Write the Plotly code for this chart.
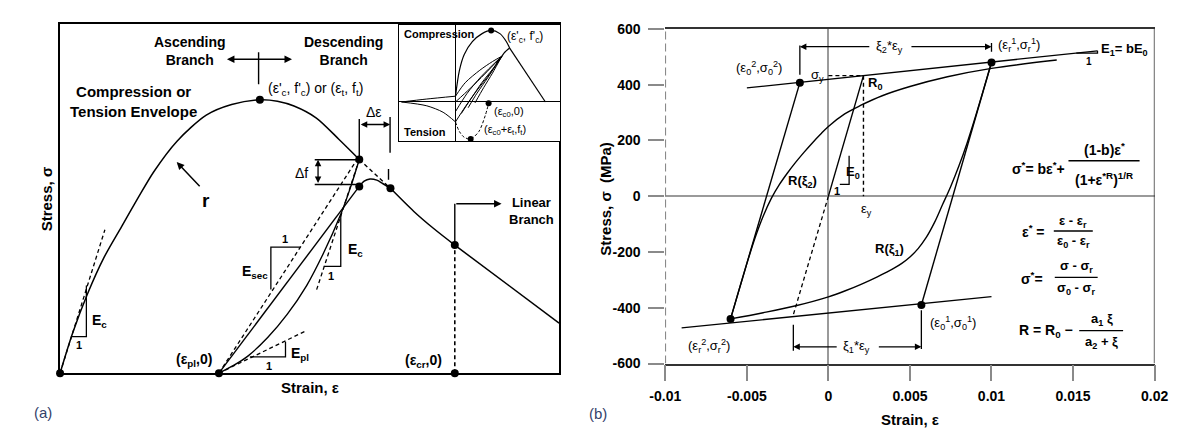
import plotly.graph_objects as go

W, H = 1183, 429

# ================= Panel (a): schematic concrete model (normalized units) =================
env_up_x = [0.00, 0.13, 0.28, 0.45, 0.63, 0.80, 0.96, 1.20, 1.50, 1.76, 2.05, 2.23, 2.40, 2.63, 2.86, 3.07]
env_up_y = [0.00, 0.42, 0.82, 1.20, 1.52, 1.82, 2.09, 2.41, 2.68, 2.79, 2.84, 2.825, 2.775, 2.65, 2.43, 2.22]
env_gap_x = [3.07, 3.23, 3.39]
env_gap_y = [2.22, 2.07, 1.92]
env_desc_x = [3.39, 3.63, 3.83, 4.05]
env_desc_y = [1.92, 1.68, 1.505, 1.33]
lin_x = [4.05, 5.12]
lin_y = [1.33, 0.52]
hump_x = [3.07, 3.12, 3.18, 3.25, 3.31, 3.39]
hump_y = [1.94, 1.995, 2.017, 2.005, 1.97, 1.92]
unl_x = [3.07, 2.98, 2.88, 2.70, 2.53, 2.33, 2.13, 1.93, 1.78, 1.63]
unl_y = [2.22, 1.93, 1.65, 1.24, 0.91, 0.61, 0.37, 0.18, 0.08, 0.00]
rel_x = [1.63, 3.07]
rel_y = [0.00, 1.94]
sec_x = [1.63, 3.06]
sec_y = [0.00, 2.24]
epl_x = [1.63, 2.53]
epl_y = [0.00, 0.443]
ect_x = [3.07, 2.63]
ect_y = [2.22, 0.86]
ec0_x = [0.00, 0.46]
ec0_y = [0.00, 1.49]
ecr_x = [4.05, 4.05]
ecr_y = [0.00, 1.33]
dots_a_x = [0.00, 1.63, 4.05, 4.05, 2.05, 3.07, 3.07, 3.39]
dots_a_y = [0.00, 0.00, 0.00, 1.33, 2.84, 2.22, 1.94, 1.92]
tri_x = [0.118, 0.27, 0.27, None, 2.163, 2.163, 2.463, None, 2.706, 2.88, 2.88, None, 1.947, 2.313, 2.313]
tri_y = [0.38, 0.38, 0.91, None, 0.87, 1.31, 1.31, None, 1.11, 1.11, 1.65, None, 0.17, 0.17, 0.327]
mark_x = [3.07, 3.07, None, 3.386, 3.386, None, 3.37, 3.37, None, 2.613, 3.07, None, 2.613, 3.07, None,
          2.037, 2.037, None, 4.05, 4.05]
mark_y = [2.22, 2.64, None, 2.29, 2.66, None, 2.01, 2.12, None, 2.217, 2.217, None, 1.96, 1.96, None,
          3.00, 3.333, None, 1.36, 1.76]

# inset (compression / tension cyclic sketch)
ins_env_x = [0.0, 0.4, 0.9, 1.73, 2.73, 3.66, 4.56, 5.23, 5.56]
ins_env_y = [0.6, 3.26, 4.93, 6.26, 7.1, 7.43, 7.1, 6.26, 5.6]
ins_hump_x = [4.2, 4.6, 5.0, 5.56]
ins_hump_y = [4.05, 4.5, 5.1, 5.6]
ins_lin_x = [5.56, 9.23]
ins_lin_y = [5.6, 0.0]
fan_x = [[0.0, 1.0, 2.5, 3.8, 4.75], [0.0, 1.0, 2.2, 3.5, 4.75], [0.0, 1.5, 3.0, 4.75],
         [0.6, 1.5, 2.7, 3.8, 4.75], [1.3, 2.2, 3.3, 4.75], [0.0, 1.2, 2.6, 4.75],
         [2.0, 2.9, 3.8, 4.75]]
fan_y = [[0.6, 2.0, 3.3, 4.2, 4.75], [-2.07, -0.5, 1.2, 2.9, 4.75], [0.0, 1.4, 2.9, 4.75],
         [-1.2, 0.2, 2.0, 3.4, 4.75], [-0.6, 0.9, 2.5, 4.75], [-1.0, 0.9, 2.6, 4.75],
         [-0.1, 1.5, 3.0, 4.75]]
loop_up_x = [-5.54, -3.0, 0.0]
loop_up_y = [0.0, 0.3, 0.6]
loop_lo_x = [-5.54, -2.94, -1.27, 0.0]
loop_lo_y = [0.0, -0.4, -1.07, -2.07]
ten_x = [0.0, 0.4, 0.9, 1.56, 2.4, 3.06, 3.4]
ten_y = [-2.07, -3.07, -3.67, -3.84, -3.07, -1.4, -0.14]
ins_dots_x = [3.66, 3.4, 1.56]
ins_dots_y = [7.43, -0.14, -3.84]

# ================= Panel (b): Menegotto-Pinto steel (strain, MPa) =================
eps_upper = [-0.005, 0.0165]
sig_upper = [388, 521]
eps_lower = [-0.009, 0.010]
sig_lower = [-472, -360]
eps_el = [0.0, 0.00215]
sig_el = [0, 432]
eps_el_ext = [0.0, -0.00215]
sig_el_ext = [0, -425]
eps_yv = [0.00215, 0.00215]
sig_yv = [432, 0]
eps_yh = [0.0, 0.00215]
sig_yh = [432, 432]
eps_un1 = [0.010, 0.0057]
sig_un1 = [479, -390]
eps_re2 = [-0.006, -0.00175]
sig_re2 = [-440, 407]
eps_r1 = [0.0100, 0.0095, 0.0090, 0.0085, 0.0080, 0.0075, 0.0070, 0.0065, 0.0060, 0.0055,
          0.0050, 0.0045, 0.0040, 0.0030, 0.0020, 0.0010, 0.0000, -0.0020, -0.0040, -0.0060]
sig_r1 = [479, 380, 282, 190, 108, 35, -30, -95, -148, -188,
          -218, -241, -259, -289, -316, -340, -361, -393, -418, -440]
eps_r2 = [-0.0060, -0.0055, -0.0050, -0.0045, -0.0040, -0.0035, -0.0030, -0.0025, -0.0020, -0.0015,
          -0.0010, -0.0005, 0.0000, 0.0010, 0.0020, 0.0033, 0.0050, 0.0073, 0.0100, 0.0140]
sig_r2 = [-440, -340, -242, -150, -72, -8, 42, 84, 122, 157,
          190, 221, 250, 295, 326, 360, 393, 428, 458, 488]
dots_b_eps = [0.010, -0.00175, -0.006, 0.0057]
dots_b_sig = [479, 407, -440, -390]
marks_b_eps = [-0.00175, -0.00175, None, 0.010, 0.010, None, -0.00215, -0.00215, None, 0.0057, 0.0057,
               None, 0.00127, 0.00127, 0.0007, None, 0.0152, 0.0165, 0.0165]
marks_b_sig = [435, 540, None, 518, 549, None, -461, -554, None, -409, -548,
               None, 145, 42, 42, None, 513, 513, 521]
x_ticks = [-0.01, -0.005, 0, 0.005, 0.01, 0.015, 0.02]
x_ticktext = ['-0.01', '-0.005', '0', '0.005', '0.01', '0.015', '0.02']
y_ticks = [-600, -400, -200, 0, 200, 400, 600]
y_ticktext = ['-600', '-400', '-200', '0', '200', '400', '600']

FONT = 'Liberation Sans, Arial, sans-serif'
fig = go.Figure()


def line(x, y, xa='x', ya='y', dash=None, width=1.4, spline=False, color='black', smooth=0.8):
    ln = dict(color=color, width=width)
    if dash:
        ln['dash'] = dash
    if spline:
        ln['shape'] = 'spline'
        ln['smoothing'] = smooth
    fig.add_trace(go.Scatter(x=x, y=y, mode='lines', xaxis=xa, yaxis=ya, line=ln,
                             hoverinfo='skip', showlegend=False, cliponaxis=False,
                             connectgaps=False))


def dots(x, y, xa, ya, size=8):
    fig.add_trace(go.Scatter(x=x, y=y, mode='markers', xaxis=xa, yaxis=ya,
                             marker=dict(color='black', size=size), hoverinfo='skip',
                             showlegend=False, cliponaxis=False))


SD = '4px,3px'
# ---- panel (a)
line(env_up_x, env_up_y, spline=True, width=1.5)
line(env_gap_x, env_gap_y, dash=SD, width=1.4)
line(env_desc_x, env_desc_y, spline=True, width=1.5)
line(lin_x, lin_y, width=1.5)
line(hump_x, hump_y, spline=True, width=1.5)
line(unl_x, unl_y, spline=True, width=1.4)
line(rel_x, rel_y, width=1.4)
line(sec_x, sec_y, dash=SD, width=1.3)
line(epl_x, epl_y, dash=SD, width=1.3)
line(ect_x, ect_y, dash=SD, width=1.3)
line(ec0_x, ec0_y, dash=SD, width=1.3)
line(ecr_x, ecr_y, dash=SD, width=1.6)
line(tri_x, tri_y, width=1.3)
line(mark_x, mark_y, width=1.4)
dots(dots_a_x, dots_a_y, 'x', 'y', size=8)

# ---- inset
line(ins_env_x, ins_env_y, 'x3', 'y3', spline=True, width=1.2)
line(ins_hump_x, ins_hump_y, 'x3', 'y3', spline=True, width=1.2)
line(ins_lin_x, ins_lin_y, 'x3', 'y3', width=1.2)
for fx, fy in zip(fan_x, fan_y):
    line(fx, fy, 'x3', 'y3', spline=True, width=1.0)
line(loop_up_x, loop_up_y, 'x3', 'y3', spline=True, width=1.0)
line(loop_lo_x, loop_lo_y, 'x3', 'y3', spline=True, width=1.0)
line(ten_x, ten_y, 'x3', 'y3', spline=True, width=1.0, dash='3px,2px')
dots(ins_dots_x, ins_dots_y, 'x3', 'y3', size=6)

# ---- panel (b)
line(eps_upper, sig_upper, 'x2', 'y2', width=1.3)
line(eps_lower, sig_lower, 'x2', 'y2', width=1.3)
line(eps_el, sig_el, 'x2', 'y2', width=1.4)
line(eps_el_ext, sig_el_ext, 'x2', 'y2', dash=SD, width=1.3)
line(eps_yv, sig_yv, 'x2', 'y2', dash=SD, width=1.4)
line(eps_yh, sig_yh, 'x2', 'y2', dash=SD, width=1.4)
line(eps_un1, sig_un1, 'x2', 'y2', width=1.4)
line(eps_re2, sig_re2, 'x2', 'y2', width=1.4)
line(eps_r1, sig_r1, 'x2', 'y2', spline=True, width=1.4, smooth=1.0)
line(eps_r2, sig_r2, 'x2', 'y2', spline=True, width=1.4, smooth=1.0)
line(marks_b_eps, marks_b_sig, 'x2', 'y2', width=1.3)
dots(dots_b_eps, dots_b_sig, 'x2', 'y2', size=8)

anns = []


def txt(text, x, y, ref=('x', 'y'), size=13, xanchor='center', yanchor='middle', angle=0,
        color='black', bg=None):
    d = dict(text=text, x=x, y=y, xref=ref[0], yref=ref[1], showarrow=False, xanchor=xanchor,
             yanchor=yanchor, textangle=angle, font=dict(size=size, color=color, family=FONT))
    if bg:
        d['bgcolor'] = bg
    anns.append(d)


def arrow(x, y, ax, ay, ref=('x', 'y'), both=False, w=1.3):
    d = dict(x=x, y=y, ax=ax, ay=ay, xref=ref[0], yref=ref[1], axref=ref[0], ayref=ref[1],
             text='', showarrow=True, arrowhead=2, arrowsize=1, arrowwidth=w, arrowcolor='black',
             standoff=0)
    if both:
        d.update(arrowside='end+start', startarrowhead=2, startarrowsize=1, startstandoff=0)
    anns.append(d)


PP = ('paper', 'paper')


def P(px_, py_):
    return px_ / W, 1 - py_ / H


# ---- panel (a) text
txt('<b>Ascending<br>Branch</b>', 0.947, 3.343, size=14, xanchor='left')
txt('<b>Descending<br>Branch</b>', 2.48, 3.343, size=14, xanchor='left')
txt('<b>Compression or<br>Tension Envelope</b>', 0.08, 2.818, size=15, xanchor='left')
txt("(ε'<sub>c</sub>, f'<sub>c</sub>) or (ε<sub>t</sub>, f<sub>t</sub>)", 2.11, 2.95, size=14, xanchor='left')
txt('Δε', 3.22, 2.71, size=14)
txt('Δf', 2.48, 2.08, size=14)
txt('<b>r</b>', 1.50, 1.79, size=19)
txt('<b>E<sub>c</sub></b>', 0.40, 0.54, size=14)
txt('<b>1</b>', 0.19, 0.29, size=11)
txt('<b>E<sub>sec</sub></b>', 2.00, 1.05, size=14)
txt('<b>1</b>', 2.31, 1.395, size=11)
txt('<b>E<sub>c</sub></b>', 3.03, 1.28, size=14)
txt('<b>1</b>', 2.78, 1.01, size=11)
txt('<b>E<sub>pl</sub></b>', 2.46, 0.20, size=14)
txt('<b>1</b>', 2.147, 0.075, size=11)
txt('<b>(ε<sub>pl</sub>,0)</b>', 1.37, 0.14, size=14)
txt('<b>(ε<sub>cr</sub>,0)</b>', 3.73, 0.13, size=14)
txt('<b>Linear<br>Branch</b>', 4.59, 1.68, size=13, xanchor='left')
arrow(3.386, 2.583, 3.07, 2.583, both=True)
arrow(2.647, 2.217, 2.647, 1.96, both=True)
arrow(2.38, 3.26, 1.697, 3.26, both=True, w=1.5)
arrow(4.53, 1.76, 4.05, 1.76, w=1.5)
arrow(1.197, 2.193, 1.447, 1.927, w=1.5)

# inset text
I = ('x3', 'y3')
txt('<b>Compression</b>', -5.5, 7.1, ref=I, size=11, xanchor='left')
txt('<b>Tension</b>', -5.5, -3.07, ref=I, size=11, xanchor='left')
txt("(ε'<sub>c</sub>, f'<sub>c</sub>)", 5.1, 6.8, ref=I, size=12, xanchor='left')
txt('(ε<sub>c0</sub>,0)', 3.75, -1.0, ref=I, size=11, xanchor='left')
txt('(ε<sub>c0</sub>+ε<sub>t</sub>,f<sub>t</sub>)', 2.75, -2.95, ref=I, size=11, xanchor='left')

# titles panel (a)
x_, y_ = P(24, 190)
txt('<b>Stress, σ</b>', x_, y_, ref=PP, size=15, angle=-90)
x_, y_ = P(293, 386)
txt('<b>Strain, ε</b>', x_, y_, ref=PP, size=15)
x_, y_ = P(20, 412)
txt('(a)', x_, y_, ref=PP, size=15, color='#34426a')

# ---- panel (b) text
B = ('x2', 'y2')
txt('(ε<sub>0</sub><sup>2</sup>,σ<sub>0</sub><sup>2</sup>)', -0.00423, 458, ref=B, size=13)
txt('σ<sub>y</sub>', -0.00064, 432, ref=B, size=13)
txt('<b>R<sub>0</sub></b>', 0.00283, 404, ref=B, size=13)
txt('<b>E<sub>0</sub></b>', 0.00148, 86, ref=B, size=13)
txt('<b>1</b>', 0.0005, 17, ref=B, size=11)
txt('ε<sub>y</sub>', 0.00235, -46, ref=B, size=13)
txt('<b>R(ξ<sub>2</sub>)</b>', -0.0016, 52, ref=B, size=13)
txt('<b>R(ξ<sub>1</sub>)</b>', 0.00373, -190, ref=B, size=13)
txt('(ε<sub>r</sub><sup>1</sup>,σ<sub>r</sub><sup>1</sup>)', 0.0103, 542, ref=B, size=13, xanchor='left')
txt('(ε<sub>r</sub><sup>2</sup>,σ<sub>r</sub><sup>2</sup>)', -0.00734, -537, ref=B, size=13)
txt('(ε<sub>0</sub><sup>1</sup>,σ<sub>0</sub><sup>1</sup>)', 0.0061, -454, ref=B, size=13, xanchor='left')
txt('<b>E<sub>1</sub>= bE<sub>0</sub></b>', 0.01657, 525, ref=B, size=13, xanchor='left')
txt('<b>1</b>', 0.0160, 482, ref=B, size=10)
txt('ξ<sub>2</sub>*ε<sub>y</sub>', 0.00375, 536, ref=B, size=13)
txt('ξ<sub>1</sub>*ε<sub>y</sub>', 0.00175, -540, ref=B, size=13)
arrow(-0.00175, 536, 0.0026, 536, ref=B)
arrow(0.0100, 536, 0.0050, 536, ref=B)
arrow(-0.00215, -540, 0.0006, -540, ref=B)
arrow(0.0057, -540, 0.0030, -540, ref=B)

# equations
txt('<b>σ<sup>*</sup>= bε<sup>*</sup>+</b>', 0.01460, 100, ref=B, size=14, xanchor='right')
txt('<b>(1-b)ε<sup>*</sup></b>', 0.01690, 170, ref=B, size=14)
txt('<b>(1+ε<sup>*R</sup>)<sup>1/R</sup></b>', 0.01690, 60, ref=B, size=14)
txt('<b>ε<sup>*</sup> =</b>', 0.01257, -126, ref=B, size=14)
txt('<b>ε - ε<sub>r</sub></b>', 0.01502, -90, ref=B, size=13)
txt('<b>ε<sub>0</sub> - ε<sub>r</sub></b>', 0.01502, -162, ref=B, size=13)
txt('<b>σ<sup>*</sup>=</b>', 0.01251, -292, ref=B, size=14)
txt('<b>σ - σ<sub>r</sub></b>', 0.01520, -253, ref=B, size=13)
txt('<b>σ<sub>0</sub> - σ<sub>r</sub></b>', 0.01520, -330, ref=B, size=13)
txt('<b>R = R<sub>0</sub> −</b>', 0.01337, -484, ref=B, size=14)
txt('<b>a<sub>1</sub> ξ</b>', 0.01675, -442, ref=B, size=13)
txt('<b>a<sub>2</sub> + ξ</b>', 0.01675, -526, ref=B, size=13)

x_, y_ = P(597, 190)
txt('<b>Stress, σ  (MPa)</b>', x_, y_, ref=PP, size=15, angle=-90)
x_, y_ = P(909, 419)
txt('<b>Strain, ε</b>', x_, y_, ref=PP, size=15)
x_, y_ = P(589, 413)
txt('(b)', x_, y_, ref=PP, size=15, color='#34426a')

shapes = [
    dict(type='line', xref='x2', yref='y2', x0=-0.01, x1=-0.01, y0=-600, y1=600,
         line=dict(color='#555555', width=1.5, dash='8px,4px')),
    dict(type='line', xref='x2', yref='y2', x0=0.02, x1=0.02, y0=-600, y1=600,
         line=dict(color='#333333', width=1.5)),
    dict(type='line', xref='x2', yref='y2', x0=0.01472, x1=0.01908, y0=127, y1=127,
         line=dict(color='black', width=1.4)),
    dict(type='line', xref='x2', yref='y2', x0=0.01382, x1=0.01621, y0=-125, y1=-125,
         line=dict(color='black', width=1.4)),
    dict(type='line', xref='x2', yref='y2', x0=0.01388, x1=0.01651, y0=-291, y1=-291,
         line=dict(color='black', width=1.4)),
    dict(type='line', xref='x2', yref='y2', x0=0.01538, x1=0.01807, y0=-482, y1=-482,
         line=dict(color='black', width=1.4)),
]

hide = dict(showgrid=False, showticklabels=False, ticks='')
tickfont = dict(size=14, family=FONT, color='black', weight='bold')
fig.update_layout(
    width=W, height=H, margin=dict(l=0, r=0, t=0, b=0),
    paper_bgcolor='white', plot_bgcolor='white',
    font=dict(family=FONT, color='black'),
    showlegend=False,
    xaxis=dict(domain=[37 / W, 549 / W], range=[0, 5.12], showline=True, mirror=True,
               linecolor='black', linewidth=1.5, zeroline=False, **hide),
    yaxis=dict(domain=[1 - 371 / H, 1 - 8 / H], range=[0, 3.63], showline=True, mirror=True,
               linecolor='black', linewidth=1.5, zeroline=False, **hide),
    xaxis3=dict(domain=[385 / W, 550 / W], range=[-5.77, 10.73], anchor='y3', showline=True,
                mirror=True, linecolor='black', linewidth=1.3, zeroline=True,
                zerolinecolor='black', zerolinewidth=1, **hide),
    yaxis3=dict(domain=[1 - 130 / H, 1 - 9 / H], range=[-4.07, 8.03], anchor='x3', showline=True,
                mirror=True, linecolor='black', linewidth=1.3, zeroline=True,
                zerolinecolor='black', zerolinewidth=1, **hide),
    xaxis2=dict(domain=[658 / W, 1160 / W], range=[-0.01, 0.02], anchor='y2', showgrid=False,
                showline=True, mirror=True, linecolor='#333333', linewidth=1.5,
                ticks='outside', ticklen=16, tickwidth=2, tickcolor='#8a8a8a',
                tickvals=x_ticks, ticktext=x_ticktext, tickfont=tickfont, ticklabelstandoff=3,
                zeroline=True, zerolinecolor='#9a9a9a', zerolinewidth=2),
    yaxis2=dict(domain=[1 - 361 / H, 1 - 13.3 / H], range=[-600, 600], anchor='x2',
                showgrid=False, showline=False,
                ticks='outside', ticklen=16, tickwidth=2, tickcolor='#8a8a8a',
                tickvals=y_ticks, ticktext=y_ticktext, tickfont=tickfont, ticklabelstandoff=5,
                zeroline=True, zerolinecolor='#9a9a9a', zerolinewidth=2),
    annotations=anns,
    shapes=shapes,
)

fig.write_html('out.html')
